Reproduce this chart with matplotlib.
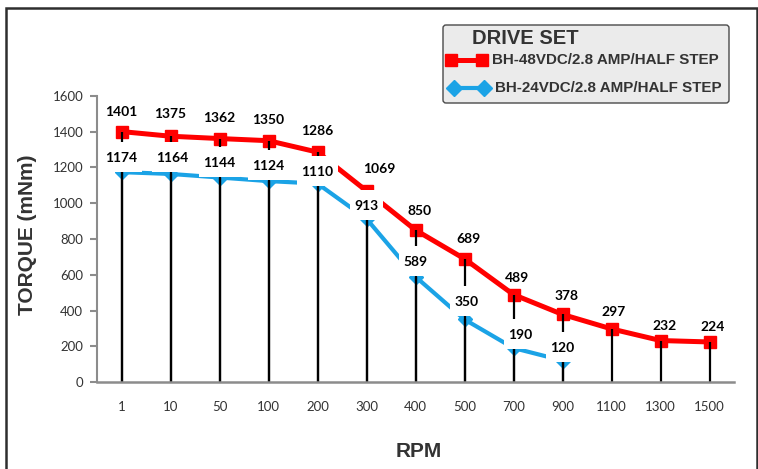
import matplotlib
matplotlib.use("Agg")
import matplotlib.pyplot as plt
from matplotlib.path import Path
from matplotlib.patches import FancyBboxPatch, Rectangle
from matplotlib.lines import Line2D

# ---------------- data ----------------
categories = ['1', '10', '50', '100', '200', '300', '400', '500', '700', '900', '1100', '1300', '1500']
torque_48v = [1401, 1375, 1362, 1350, 1286, 1069, 850, 689, 489, 378, 297, 232, 224]
torque_24v = [1174, 1164, 1144, 1124, 1110, 913, 589, 350, 190, 120]
series_names = ['BH-48VDC/2.8 AMP/HALF STEP', 'BH-24VDC/2.8 AMP/HALF STEP']
legend_title = 'DRIVE SET'
y_ticks = [0, 200, 400, 600, 800, 1000, 1200, 1400, 1600]
x_title = 'RPM'
y_title = 'TORQUE (mNm)'

# label nudges in pixels (layout only)
red_dx = [0, 0, 0, 0, 0, 13, 4, 4, 4, 4, 2, 4, 3]
red_dy = [20, 22, 21, 21, 21, 22, 19, 20, 17, 18, 17, 15, 15]
blue_dx = [0, 2, 0, 0, 0, 0, 0, 2, 7, 0]
blue_dy = [14, 16, 15, 15, 12, 13, 15, 17, 13, 13]

RED = '#ff0000'
BLUE = '#1ba3e6'
DARK = '#333333'
GRAY = '#8c8c8c'

W, H = 758, 469
DPI = 100
fig = plt.figure(figsize=(W / DPI, H / DPI), dpi=DPI)
fig.patch.set_facecolor('white')

ax = fig.add_axes([97 / W, (H - 382) / H, (734 - 97) / W, (382 - 96) / H])
ax.set_facecolor('none')

x_all = list(range(len(categories)))
x_blue = x_all[:len(torque_24v)]

ax.plot(x_all, torque_48v, color=RED, lw=3.6, marker='s', ms=9, mec=RED, mfc=RED, zorder=2)
ax.plot(x_blue, torque_24v, color=BLUE, lw=3.0, marker='D', ms=7.5, mec=BLUE, mfc=BLUE, zorder=2.5)
ax.vlines(x_all, 0, torque_48v, colors='black', lw=1.6, zorder=3)
ax.vlines(x_blue, 0, torque_24v, colors='black', lw=1.6, zorder=3)


def label_box(x0, y0, width, height, mutation_size):
    cx = x0 + width / 2.0
    cy = y0 + height / 2.0 + 1
    hw = width / 2.0 + 4
    hh = 15
    return Path([(cx - hw, cy - hh), (cx + hw, cy - hh), (cx + hw, cy + hh),
                 (cx - hw, cy + hh), (cx - hw, cy - hh)], closed=True)


px2pt = 72.0 / DPI
lab_font = dict(family=['Lato', 'DejaVu Sans'], fontsize=10, fontweight='bold', color='black')

for i, v in enumerate(torque_48v):
    ax.annotate(str(v), (x_all[i], v), xytext=(red_dx[i] * px2pt, red_dy[i] * px2pt),
                textcoords='offset points', ha='center', va='center', zorder=5, **lab_font)

for i, v in enumerate(torque_24v):
    ax.annotate(str(v), (x_blue[i], v), xytext=(blue_dx[i] * px2pt, blue_dy[i] * px2pt),
                textcoords='offset points', ha='center', va='center', zorder=4,
                bbox=dict(boxstyle=label_box, fc='white', ec='none'), **lab_font)

ax.set_xlim(-0.5, len(categories) - 0.5)
ax.set_ylim(0, 1600)
ax.set_xticks(x_all)
ax.set_xticklabels(categories)
ax.set_yticks(y_ticks)
ax.set_yticklabels([str(t) for t in y_ticks])

for s in ['top', 'right']:
    ax.spines[s].set_visible(False)
ax.spines['left'].set_color(GRAY)
ax.spines['left'].set_linewidth(1.5)
ax.spines['bottom'].set_color(GRAY)
ax.spines['bottom'].set_linewidth(1.8)
ax.spines['left'].set_zorder(1)
ax.spines['bottom'].set_zorder(6)

ax.tick_params(axis='x', length=0, pad=13.5, labelsize=9.5, labelcolor=DARK)
ax.tick_params(axis='y', length=5, width=1.5, color=GRAY, pad=5, labelsize=9.5, labelcolor=DARK)
for lbl in ax.get_xticklabels() + ax.get_yticklabels():
    lbl.set_family(['Lato', 'DejaVu Sans'])

# axis titles
title_font = dict(family=['Liberation Sans', 'DejaVu Sans'], fontweight='bold', color=DARK, fontsize=15)
fig.text(28 / W, 1 - 235 / H, y_title, rotation=90, ha='center', va='center', **title_font)
fig.text(419 / W, 1 - 456.5 / H, x_title, ha='center', va='baseline', **title_font)

# legend (drawn in inches from the top-left)
tr = fig.dpi_scale_trans


def fx(px):
    return px / DPI


def fy(py):
    return (H - py) / DPI


leg_box = FancyBboxPatch((fx(443), fy(103)), fx(729) - fx(443), fy(25) - fy(103),
                         boxstyle='round,pad=0,rounding_size=0.03', transform=tr,
                         fc='#ebebeb', ec='#4a4a4a', lw=1.0, zorder=10)
fig.add_artist(leg_box)
fig.text(fx(472), fy(44.3), legend_title, transform=tr, ha='left', va='baseline',
         family=['Liberation Sans', 'DejaVu Sans'], fontweight='bold', fontsize=14.5,
         color=DARK, zorder=11)
fig.add_artist(Line2D([fx(450.5), fx(481.7)], [fy(60), fy(60)], transform=tr, color=RED, lw=3.6,
                      marker='s', ms=9, mec=RED, mfc=RED, zorder=11))
fig.add_artist(Line2D([fx(454), fx(484)], [fy(88.3), fy(88.3)], transform=tr, color=BLUE, lw=3.0,
                      marker='D', ms=8.5, mec=BLUE, mfc=BLUE, zorder=11))
fig.text(fx(492), fy(64.3), series_names[0], transform=tr, ha='left', va='baseline',
         family=['Liberation Sans', 'DejaVu Sans'], fontweight='bold', fontsize=10.9, color=DARK, zorder=11)
fig.text(fx(495), fy(92.3), series_names[1], transform=tr, ha='left', va='baseline',
         family=['Liberation Sans', 'DejaVu Sans'], fontweight='bold', fontsize=10.9, color=DARK, zorder=11)

# outer frame
frame = Rectangle((fx(6.2), fy(480)), fx(756.5) - fx(6.2), fy(8.3) - fy(480), transform=tr,
                  fill=False, ec='#2e2e2e', lw=1.8, clip_on=False, zorder=12)
fig.add_artist(frame)

fig.savefig('out.png', dpi=DPI, facecolor='white')
